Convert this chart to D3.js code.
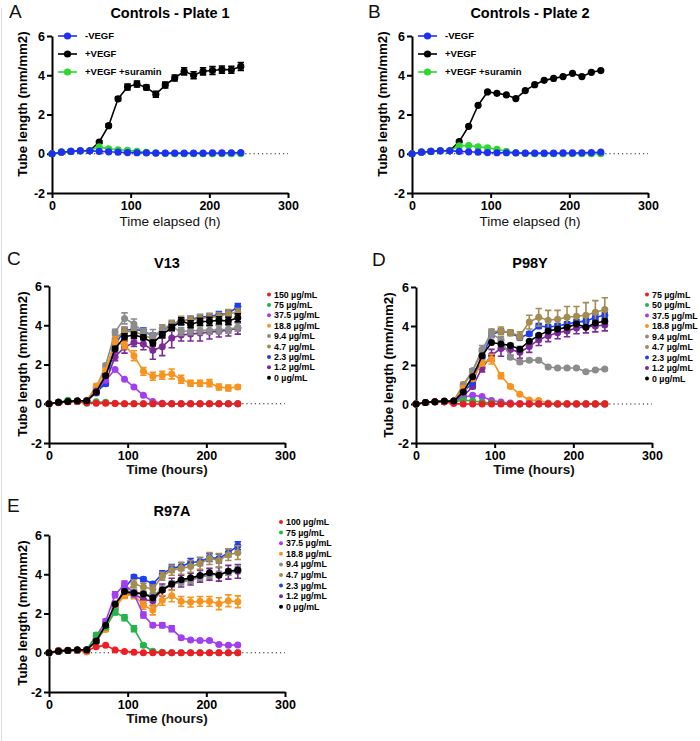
<!DOCTYPE html>
<html><head><meta charset="utf-8">
<script src="https://cdn.jsdelivr.net/npm/d3@7"></script>
<style>body{margin:0;background:#fff}svg{display:block}</style>
</head><body>
<svg id="chart" width="700" height="741"></svg>
<script>
// ---------- data ----------
const hours = [0,12,24,36,48,60,72,84,96,108,120,132,144,156,168,180,192,204,216,228,240];
const xTicks = [0,100,200,300];
const yTicks = [-2,0,2,4,6];

const ctrlLabels = ["-VEGF","+VEGF","+VEGF +suramin"];
const p1Minus   = [0,0.08,0.12,0.15,0.15,0.12,0.1,0.08,0.06,0.05,0.04,0.03,0.03,0.03,0.03,0.03,0.03,0.04,0.04,0.05,0.06];
const p1Plus    = [0,0.08,0.12,0.15,0.15,0.6,1.43,2.8,3.4,3.55,3.38,3.03,3.5,3.86,4.2,4.0,4.2,4.24,4.29,4.28,4.45];
const p1PlusErr = [0,0.02,0.03,0.03,0.03,0.06,0.08,0.1,0.15,0.15,0.12,0.15,0.15,0.15,0.18,0.18,0.18,0.2,0.18,0.18,0.2];
const p1Suramin = [0,0.08,0.12,0.15,0.15,0.35,0.25,0.2,0.17,0.12,0.07,0.04,0.02,0.01,0,0,0,0,0,0,0];
const p2Minus   = [0,0.08,0.12,0.15,0.15,0.12,0.1,0.08,0.06,0.05,0.05,0.04,0.03,0.03,0.03,0.03,0.04,0.04,0.05,0.06,0.08];
const p2Plus    = [0,0.08,0.12,0.15,0.15,0.62,1.4,2.47,3.15,3.08,3.0,2.81,3.22,3.52,3.74,3.84,3.93,4.1,3.93,4.15,4.24];
const p2Suramin = [0,0.08,0.12,0.15,0.15,0.4,0.42,0.35,0.3,0.22,0.12,0.05,0.02,0,0,0,0,0,0,0,0];

const concV13  = ["150 µg/mL","75 µg/mL","37.5 µg/mL","18.8 µg/mL","9.4 µg/mL","4.7 µg/mL","2.3 µg/mL","1.2 µg/mL","0 µg/mL"];
const concP98Y = ["75 µg/mL","50 µg/mL","37.5 µg/mL","18.8 µg/mL","9.4 µg/mL","4.7 µg/mL","2.3 µg/mL","1.2 µg/mL","0 µg/mL"];
const concR97A = ["100 µg/mL","75 µg/mL","37.5 µg/mL","18.8 µg/mL","9.4 µg/mL","4.7 µg/mL","2.3 µg/mL","1.2 µg/mL","0 µg/mL"];

// V13
const v13_c1 = [0,0.05,0.1,0.12,0.05,0.03,0.02,0.01,0,0,0,0,0,0,0,0,0,0,0,0,0];
const v13_c2 = [0,0.08,0.18,0.12,0.03,0.1,0.08,0.03,0,0,0,0,0,0,0,0,0,0,0,0,0];
const v13_c3 = [0,0.08,0.12,0.13,0.15,0.65,1.2,1.75,1.25,0.85,0.43,0.12,0.02,0,0,0,0,0,0,0,0];
const v13_c4 = [0,0.08,0.12,0.13,0.15,0.9,1.7,3.15,3.0,2.45,1.65,1.4,1.45,1.52,1.25,1.05,1.05,1.05,0.85,0.8,0.85];
const v13_c5 = [0,0.08,0.12,0.13,0.15,0.8,1.95,3.65,4.35,4.07,3.65,3.48,3.73,3.9,3.68,3.72,3.73,3.75,3.77,3.8,3.9];
const v13_c6 = [0,0.08,0.12,0.13,0.15,0.7,1.5,3.3,3.7,3.68,3.5,3.3,3.82,4.05,4.25,4.25,4.35,4.4,4.45,4.6,4.65];
const v13_c7 = [0,0.08,0.12,0.13,0.15,0.6,1.02,3.0,3.75,3.78,3.72,3.45,3.65,4.05,4.2,4.3,4.4,4.45,4.55,4.6,4.95];
const v13_c8 = [0,0.08,0.12,0.13,0.15,0.55,1.1,2.4,2.88,3.12,3.05,2.72,2.9,3.35,3.5,3.55,3.6,3.65,3.7,3.75,3.85];
const v13_c9 = [0,0.08,0.12,0.15,0.15,0.6,1.43,2.8,3.42,3.5,3.38,3.1,3.52,3.88,4.2,4.05,4.18,4.2,4.25,4.22,4.38];
const v13_e4 = [0,0,0,0,0,0.1,0.1,0.25,0.2,0.25,0.2,0.2,0.2,0.25,0.2,0.15,0.15,0.18,0.15,0.15,0.1];
const v13_e5 = [0,0,0,0,0,0.1,0.1,0.15,0.28,0.25,0.2,0.3,0.25,0.2,0.2,0.2,0.2,0.2,0.2,0.2,0.2];
const v13_e6 = [0,0,0,0,0,0.1,0.1,0.2,0.2,0.2,0.2,0.2,0.2,0.2,0.2,0.2,0.2,0.2,0.2,0.2,0.2];
const v13_e7 = [0,0,0,0,0,0.1,0.1,0.15,0.15,0.15,0.15,0.15,0.15,0.15,0.15,0.15,0.15,0.15,0.15,0.15,0.15];
const v13_e8 = [0,0,0,0,0,0.1,0.15,0.2,0.3,0.2,0.3,0.45,0.45,0.5,0.3,0.35,0.4,0.35,0.3,0.3,0.3];
const v13_e9 = [0,0.02,0.03,0.03,0.03,0.06,0.08,0.1,0.15,0.15,0.12,0.15,0.15,0.15,0.18,0.18,0.18,0.2,0.18,0.18,0.2];

// P98Y
const p98_c1 = [0,0.08,0.12,0.12,0.02,0,0,0,0,0,0,0,0,0,0,0,0,0,0,0,0];
const p98_c2 = [0,0.08,0.12,0.12,0.1,0.2,0.15,0.1,0.05,0.02,0,0,0,0,0,0,0,0,0,0,0];
const p98_c3 = [0,0.08,0.1,0.1,0.1,0.35,0.45,0.38,0.18,0.1,0.05,0.03,0.02,0.02,0.01,0,0,0,0,0,0];
const p98_c4 = [0,0.08,0.12,0.13,0.15,0.8,1.3,2.1,2.3,1.45,0.9,0.5,0.2,0.18,0.05,0.03,0.02,0.02,0.02,0.02,0.02];
const p98_c5 = [0,0.08,0.12,0.13,0.15,0.9,1.7,2.8,3.6,3.3,2.4,2.15,2.25,2.25,1.9,1.85,1.85,1.85,1.65,1.75,1.8];
const p98_c6 = [0,0.08,0.12,0.13,0.15,1.0,1.7,2.7,3.7,3.75,3.65,3.5,4.2,4.45,4.3,4.35,4.45,4.5,4.55,4.7,4.85];
const p98_c7 = [0,0.08,0.12,0.13,0.15,0.6,1.1,2.4,3.55,3.75,3.65,3.4,3.6,4.0,3.95,4.0,4.1,4.2,4.25,4.45,4.55];
const p98_c8 = [0,0.08,0.12,0.13,0.15,0.4,0.9,1.85,2.5,2.85,2.8,2.65,2.95,3.3,3.5,3.65,3.75,3.9,3.95,4.0,4.05];
const p98_c9 = [0,0.08,0.12,0.15,0.15,0.62,1.4,2.47,3.15,3.08,3.0,2.81,3.22,3.52,3.74,3.84,3.93,4.1,3.93,4.15,4.24];
const p98_e4 = [0,0,0,0,0,0.05,0.1,0.15,0.25,0.15,0.08,0.05,0.05,0.05,0.03,0,0,0,0,0,0];
const p98_e5 = [0,0,0,0,0,0.1,0.1,0.2,0.2,0.15,0.1,0.08,0.08,0.08,0.05,0.05,0.05,0.05,0.05,0.05,0.05];
const p98_e6 = [0,0,0,0,0,0.1,0.1,0.15,0.15,0.2,0.15,0.2,0.35,0.45,0.5,0.45,0.55,0.5,0.65,0.6,0.6];
const p98_e7 = [0,0,0,0,0,0.05,0.08,0.1,0.1,0.1,0.1,0.1,0.1,0.12,0.12,0.12,0.12,0.12,0.15,0.15,0.15];
const p98_e8 = [0,0,0,0,0,0.08,0.1,0.2,0.3,0.4,0.3,0.3,0.3,0.3,0.3,0.3,0.3,0.3,0.3,0.3,0.3];

// R97A
const r97_c1 = [0,0.12,0.13,0.13,0.1,0.3,0.38,0.14,0.07,0.03,0,0,0,0,0,0,0,0,0,0,0];
const r97_c2 = [0,0.08,0.12,0.13,0.12,0.9,1.3,2.08,1.78,1.22,0.38,0.08,0.02,0,0,0,0,0,0,0,0];
const r97_c3 = [0,0.08,0.12,0.13,0.15,0.85,1.6,2.95,3.5,3.0,1.92,1.4,1.4,1.22,0.76,0.65,0.62,0.62,0.42,0.38,0.4];
const r97_c4 = [0,0.08,0.12,0.13,0.05,0.7,1.2,2.3,2.92,2.95,2.42,2.18,2.67,2.9,2.62,2.58,2.62,2.62,2.5,2.65,2.6];
const r97_c5 = [0,0.08,0.12,0.13,0.15,0.6,1.3,2.5,3.05,3.1,3.0,2.9,3.25,3.5,3.6,3.7,3.85,3.95,4.0,4.1,4.25];
const r97_c6 = [0,0.08,0.12,0.13,0.05,0.7,1.2,2.4,3.0,3.52,3.35,3.25,3.9,4.2,4.3,4.4,4.55,4.8,4.7,5.0,5.1];
const r97_c7 = [0,0.1,0.12,0.13,0.15,0.6,1.3,2.3,3.3,3.86,3.75,3.5,4.02,4.3,4.4,4.6,4.65,4.85,4.8,5.1,5.45];
const r97_c8 = [0,0.08,0.12,0.13,0.15,0.6,1.3,2.4,3.0,3.0,2.7,2.65,3.2,3.5,3.65,3.75,3.9,4.0,4.0,4.1,4.15];
const r97_c9 = [0,0.08,0.12,0.15,0.15,0.6,1.4,2.47,3.12,3.05,3.0,2.8,3.2,3.5,3.72,3.82,3.93,4.08,3.95,4.15,4.22];
const r97_e2 = [0,0,0,0,0,0.1,0.1,0.15,0.15,0.15,0.08,0.05,0,0,0,0,0,0,0,0,0];
const r97_e3 = [0,0,0,0,0,0.1,0.1,0.15,0.15,0.15,0.15,0.1,0.12,0.15,0.08,0.05,0.05,0.05,0.05,0.05,0.05];
const r97_e4 = [0,0,0,0,0,0.1,0.1,0.15,0.15,0.2,0.2,0.25,0.25,0.3,0.25,0.25,0.25,0.25,0.3,0.3,0.3];
const r97_e5 = [0,0,0,0,0,0.1,0.1,0.12,0.12,0.12,0.12,0.12,0.15,0.15,0.15,0.15,0.15,0.15,0.15,0.15,0.15];
const r97_e6 = [0,0,0,0,0,0.1,0.1,0.15,0.15,0.2,0.2,0.2,0.2,0.25,0.3,0.3,0.3,0.3,0.35,0.3,0.35];
const r97_e7 = [0,0,0,0,0,0.1,0.1,0.12,0.12,0.1,0.1,0.12,0.15,0.2,0.2,0.2,0.2,0.2,0.22,0.2,0.2];
const r97_e8 = [0,0,0,0,0,0.1,0.15,0.2,0.2,0.2,0.2,0.25,0.3,0.3,0.3,0.3,0.3,0.3,0.35,0.35,0.35];

// ---------- styles ----------
const FONT = "'Liberation Sans', Arial, Helvetica, sans-serif";
const ctrlColors = {minus:"#1f2ff0", plus:"#000000", sur:"#2ed82e"};
const doseColors = ["#ee1c24","#25b34b","#a13ff0","#f7931e","#8c8c8c","#a28c52","#1c3ff0","#7b2a98","#000000"];

const svg = d3.select("#chart");
svg.append("rect").attr("width",700).attr("height",741).attr("fill","#fff");
svg.append("line").attr("x1",1.5).attr("x2",1.5).attr("y1",8).attr("y2",741).attr("stroke","#dcdcdc").attr("stroke-width",1);

function ctrlSeries(minus, plus, plusErr, sur) {
  return [
    {label:ctrlLabels[0], values:minus, err:null, color:ctrlColors.minus, order:3},
    {label:ctrlLabels[1], values:plus, err:plusErr, color:ctrlColors.plus, order:1},
    {label:ctrlLabels[2], values:sur, err:null, color:ctrlColors.sur, order:2}
  ];
}
function doseSeries(labels, vals, errs) {
  const drawOrder = [8,7,6,5,4,3,2,1,9];
  return labels.map((l,i)=>({label:l, values:vals[i], err:errs[i], color:doseColors[i], order:drawOrder[i]}));
}

const panels = [
  {letter:"A", letterPos:[9,18], title:"Controls - Plate 1", titlePos:[170,18],
   box:[52,288,36,193], xTitle:"Time elapsed (h)", xTitleBold:false, xTitleY:226, yTitleX:22, yTitleC:104,
   series: ctrlSeries(p1Minus,p1Plus,p1PlusErr,p1Suramin), legend:{type:"line", x:58, y:36, dy:18, r:3.6}, r:3.6},
  {letter:"B", letterPos:[368,18], title:"Controls - Plate 2", titlePos:[530,18],
   box:[412,648,36,193], xTitle:"Time elapsed (h)", xTitleBold:false, xTitleY:226, yTitleX:382, yTitleC:104,
   series: ctrlSeries(p2Minus,p2Plus,null,p2Suramin), legend:{type:"line", x:418, y:36, dy:18, r:3.6}, r:3.6},
  {letter:"C", letterPos:[7,265], title:"V13", titlePos:[167,268],
   box:[49,285,286,443], xTitle:"Time (hours)", xTitleBold:true, xTitleY:474, yTitleX:22, yTitleC:364,
   series: doseSeries(concV13,[v13_c1,v13_c2,v13_c3,v13_c4,v13_c5,v13_c6,v13_c7,v13_c8,v13_c9],
                      [null,null,null,v13_e4,v13_e5,v13_e6,v13_e7,v13_e8,v13_e9]),
   legend:{type:"dot", x:269, y:294.5, dy:10.4}, r:3.5},
  {letter:"D", letterPos:[372,266], title:"P98Y", titlePos:[530,268],
   box:[416,652,287,443], xTitle:"Time (hours)", xTitleBold:true, xTitleY:474, yTitleX:388, yTitleC:365,
   series: doseSeries(concP98Y,[p98_c1,p98_c2,p98_c3,p98_c4,p98_c5,p98_c6,p98_c7,p98_c8,p98_c9],
                      [null,null,null,p98_e4,p98_e5,p98_e6,p98_e7,p98_e8,null]),
   legend:{type:"dot", x:647, y:294.5, dy:10.5}, r:3.5},
  {letter:"E", letterPos:[7,512], title:"R97A", titlePos:[172,516],
   box:[49,285,535,692], xTitle:"Time (hours)", xTitleBold:true, xTitleY:723, yTitleX:22, yTitleC:613,
   series: doseSeries(concR97A,[r97_c1,r97_c2,r97_c3,r97_c4,r97_c5,r97_c6,r97_c7,r97_c8,r97_c9],
                      [null,r97_e2,r97_e3,r97_e4,r97_e5,r97_e6,r97_e7,r97_e8,null]),
   legend:{type:"dot", x:281, y:522, dy:10.6}, r:3.5}
];

panels.forEach(p => {
  const [x0,x1,y0,y1] = p.box;
  const x = d3.scaleLinear().domain([0,300]).range([x0,x1]);
  const y = d3.scaleLinear().domain([-2,6]).range([y1,y0]);
  const g = svg.append("g");

  g.append("text").attr("x",p.letterPos[0]).attr("y",p.letterPos[1]).text(p.letter)
    .attr("font-family",FONT).attr("font-size",19).attr("fill","#111");
  g.append("text").attr("x",p.titlePos[0]).attr("y",p.titlePos[1]).text(p.title)
    .attr("text-anchor","middle").attr("font-family",FONT).attr("font-size",14.5).attr("font-weight","bold");

  g.append("line").attr("x1",x(0)).attr("x2",x(300)).attr("y1",y(0)).attr("y2",y(0))
    .attr("stroke","#222").attr("stroke-width",1.2).attr("stroke-dasharray","1.2,3");

  const ax = g.append("g").attr("transform",`translate(0,${y1})`)
    .call(d3.axisBottom(x).tickValues(xTicks).tickSize(5).tickSizeOuter(0).tickFormat(d=>String(d)));
  const ay = g.append("g").attr("transform",`translate(${x0},0)`)
    .call(d3.axisLeft(y).tickValues(yTicks).tickSize(5).tickSizeOuter(0).tickFormat(d=>String(d)));
  [ax,ay].forEach(a=>{
    a.select(".domain").attr("stroke","#000").attr("stroke-width",2);
    a.selectAll(".tick line").attr("stroke","#000").attr("stroke-width",2);
    a.selectAll(".tick text").attr("font-family",FONT).attr("font-size",12.5).attr("font-weight","bold").attr("fill","#000");
  });
  ay.selectAll(".tick text").attr("x",-7);

  g.append("text").attr("x",(x0+x1)/2).attr("y",p.xTitleY).text(p.xTitle).attr("text-anchor","middle")
    .attr("font-family",FONT).attr("font-size",13.5).attr("font-weight",p.xTitleBold?"bold":"normal").attr("fill","#111");
  g.append("text").attr("transform",`translate(${p.yTitleX+4.5},${p.yTitleC}) rotate(-90)`).text("Tube length (mm/mm2)")
    .attr("text-anchor","middle").attr("font-family",FONT).attr("font-size",13.3).attr("font-weight","bold");

  const line = d3.line().x((d,i)=>x(hours[i])).y(d=>y(d));
  const ordered = p.series.slice().sort((a,b)=>a.order-b.order);
  ordered.forEach(s => {
    const sg = g.append("g");
    if (s.err) {
      s.values.forEach((v,i)=>{
        const e = s.err[i]; if (!e) return;
        const cx = x(hours[i]);
        sg.append("path").attr("d",`M${cx},${y(v-e)}V${y(v+e)}M${cx-3.2},${y(v+e)}H${cx+3.2}M${cx-3.2},${y(v-e)}H${cx+3.2}`)
          .attr("stroke",s.color).attr("stroke-width",1.6).attr("fill","none");
      });
    }
    sg.append("path").attr("d",line(s.values)).attr("fill","none").attr("stroke",s.color).attr("stroke-width",1.6);
    sg.selectAll("circle").data(s.values).join("circle")
      .attr("cx",(d,i)=>x(hours[i])).attr("cy",d=>y(d)).attr("r",p.r).attr("fill",s.color);
  });

  const L = p.legend;
  p.series.forEach((s,i)=>{
    const ly = L.y + i*L.dy;
    if (L.type==="line") {
      g.append("line").attr("x1",L.x).attr("x2",L.x+19).attr("y1",ly).attr("y2",ly).attr("stroke",s.color).attr("stroke-width",1.6);
      g.append("circle").attr("cx",L.x+9.5).attr("cy",ly).attr("r",L.r).attr("fill",s.color);
      g.append("text").attr("x",L.x+27).attr("y",ly).attr("dy","0.35em").text(s.label)
        .attr("font-family",FONT).attr("font-size",9.5).attr("font-weight","bold");
    } else {
      g.append("circle").attr("cx",L.x).attr("cy",ly).attr("r",2).attr("fill",s.color);
      g.append("text").attr("x",L.x+5).attr("y",ly).attr("dy","0.35em").text(s.label)
        .attr("font-family",FONT).attr("font-size",8.8).attr("font-weight","bold");
    }
  });
});
</script>
</body></html>
